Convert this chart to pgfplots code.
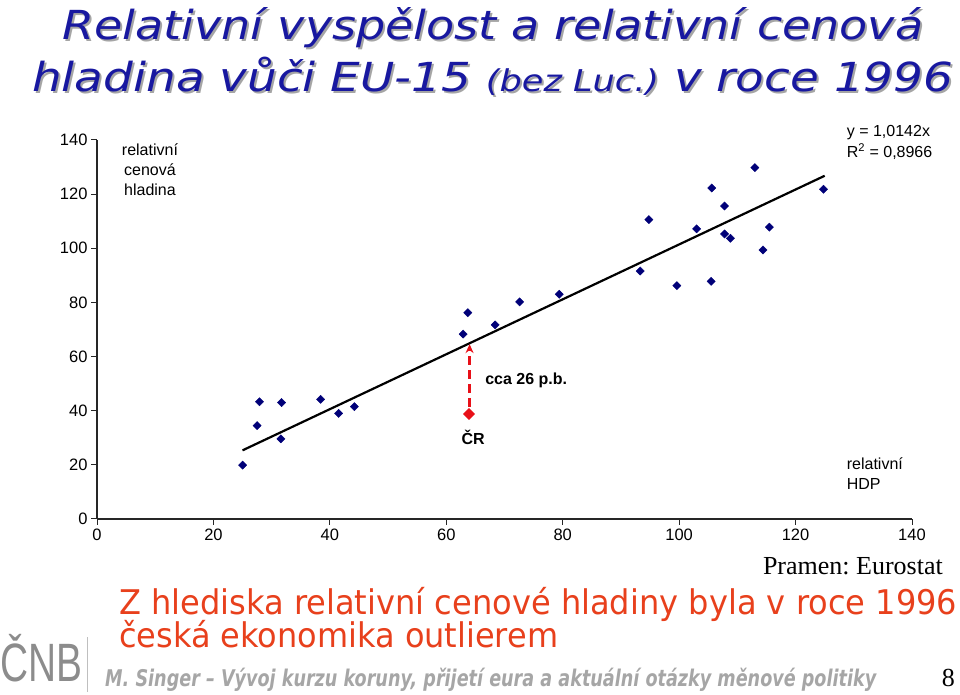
\documentclass[border=0pt]{standalone}
\usepackage{pgfplots}
\pgfplotsset{compat=1.18}
\usepackage{graphicx}
\usepackage{fontspec}
\usetikzlibrary{arrows.meta}
\setmainfont{Liberation Sans}
\newfontfamily\tahoma{DejaVu Sans}
\newfontfamily\serifrm{Liberation Serif}
\frenchspacing

\definecolor{titleblue}{RGB}{24,24,160}
\definecolor{shadowgray}{RGB}{165,165,165}
\definecolor{navypt}{RGB}{0,0,120}
\definecolor{crred}{RGB}{232,16,24}
\definecolor{notered}{RGB}{232,64,28}
\definecolor{footgray}{RGB}{166,166,166}
\definecolor{logogray}{RGB}{140,140,140}

\newcommand\titleA{\resizebox{861pt}{\height}{\fontsize{40}{40}\selectfont\tahoma\itshape Relativní vyspělost a relativní cenová}}
\newcommand\titleB{\resizebox{921pt}{\height}{\fontsize{40}{40}\selectfont\tahoma\itshape hladina vůči EU-15 {\fontsize{30}{30}\selectfont (bez Luc.)} v roce 1996}}

\begin{document}
\begin{tikzpicture}[x=1pt,y=1pt]
\useasboundingbox (0,0) rectangle (960,695);

\begin{axis}[
  at={(97pt,176pt)}, anchor=south west,
  scale only axis, width=815pt, height=379pt,
  xmin=0, xmax=140, ymin=0, ymax=140,
  axis lines=left, axis line style={-, black!85, line width=1.1pt},
  xtick={0,20,...,140}, ytick={0,20,...,140},
  tick align=outside, major tick length=6pt,
  tick style={black!85, line width=1pt},
  tick label style={font=\fontsize{16.5}{19}\selectfont},
  /pgf/number format/assume math mode=true,
  clip=false,
]
% countries
\addplot[only marks, mark=square*, mark size=2.9pt, color=navypt, mark options={rotate=45}]
coordinates {(25.0,19.9)(27.5,34.5)(27.9,43.3)(31.7,43.0)(31.6,29.6)(38.4,44.2)(41.5,39.0)(44.2,41.5)
(62.9,68.3)(63.7,76.2)(68.4,71.7)(72.6,80.2)(79.4,83.0)(93.3,91.6)(94.8,110.6)(99.6,86.2)
(103.0,107.2)(105.5,87.8)(105.6,122.3)(107.8,115.6)(107.8,105.3)(108.8,103.7)(113.0,129.8)
(114.4,99.4)(115.5,107.8)(124.8,121.8)};
% trend y = 1.0142x
\addplot[black, line width=2.2pt] coordinates {(25,25.36)(125,126.78)};
% gap for CR
\addplot[crred, line width=2.5pt, dash pattern=on 9pt off 5pt, -{Stealth[length=9pt,width=8pt]}]
coordinates {(64,41.5)(64,64.6)};
\addplot[only marks, mark=square*, mark size=4pt, color=crred, mark options={rotate=45}]
coordinates {(63.9,38.8)};

\node[align=center, font=\fontsize{16}{20}\selectfont] at (axis cs:9.1,128.9) {relativní\\cenová\\hladina};
\node[align=left, anchor=west, font=\fontsize{16}{21}\selectfont] at (axis cs:128.2,139.1) {y = 1,0142x\\R\textsuperscript{2} = 0,8966};
\node[align=left, anchor=west, font=\fontsize{16}{20}\selectfont] at (axis cs:128.2,16.6) {relativní\\HDP};
\node[anchor=west, font=\fontsize{16}{20}\selectfont\bfseries] at (axis cs:66.1,51.3) {cca 26 p.b.};
\node[font=\fontsize{16}{20}\selectfont\bfseries] at (axis cs:64.6,30.3) {ČR};
\end{axis}

% title with shadow
\node[anchor=base west, inner sep=0, text=shadowgray] at (64,653) {\titleA};
\node[anchor=base west, inner sep=0, text=titleblue] at (62,655) {\titleA};
\node[anchor=base west, inner sep=0, text=shadowgray] at (34,601) {\titleB};
\node[anchor=base west, inner sep=0, text=titleblue] at (32,603) {\titleB};

% source
\node[anchor=base east, inner sep=0, font=\serifrm\fontsize{26}{26}\selectfont] at (943,120) {Pramen: Eurostat};

% conclusion
\node[anchor=base west, inner sep=0, text=notered] at (119,80)
  {\resizebox{838pt}{\height}{\fontsize{34}{34}\selectfont\tahoma Z hlediska relativní cenové hladiny byla v roce 1996}};
\node[anchor=base west, inner sep=0, text=notered] at (119,47)
  {\resizebox{439pt}{\height}{\fontsize{34}{34}\selectfont\tahoma česká ekonomika outlierem}};

% footer
\node[anchor=base west, inner sep=0, text=footgray] at (105,8)
  {\resizebox{771pt}{\height}{\fontsize{23}{23}\selectfont\tahoma\bfseries\itshape M. Singer – Vývoj kurzu koruny, přijetí eura a aktuální otázky měnové politiky}};
\node[anchor=base east, inner sep=0, font=\serifrm\fontsize{26}{26}\selectfont] at (955,8) {8};

% logo
\node[anchor=base west, inner sep=0, text=logogray] at (0,13)
  {\resizebox{82pt}{\height}{\fontsize{54}{54}\selectfont ČNB}};
\draw[black!25, line width=0.8pt] (87,3) -- (87,58);
\end{tikzpicture}
\end{document}
